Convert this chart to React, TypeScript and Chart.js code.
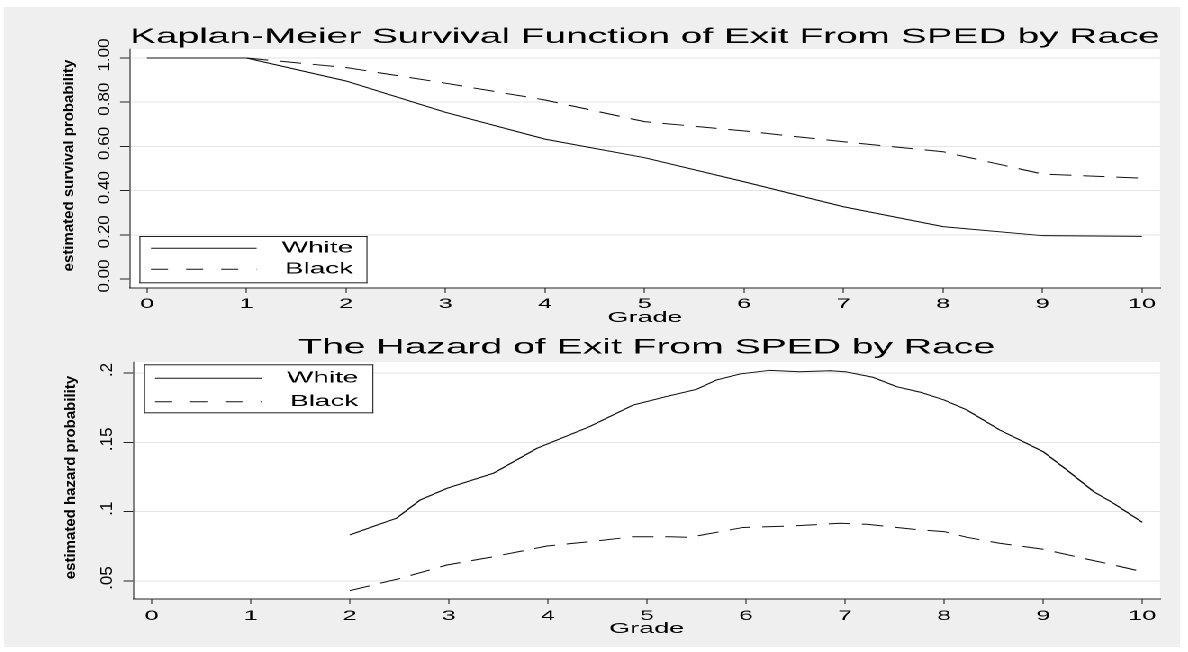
import React, { useEffect, useRef } from 'react';
import { Chart, registerables, LinearScale } from 'chart.js';

Chart.register(...registerables);

// ---------- data ----------
const seriesNames = ['White', 'Black'];

const grades = [0, 1, 2, 3, 4, 5, 6, 7, 8, 9, 10];
const gradeLabels = ['0', '1', '2', '3', '4', '5', '6', '7', '8', '9', '10'];

const survivalWhite = [1.0, 1.0, 0.896, 0.754, 0.633, 0.549, 0.44, 0.327, 0.237, 0.196, 0.193];
const survivalBlack = [1.0, 1.0, 0.957, 0.886, 0.81, 0.712, 0.67, 0.621, 0.576, 0.475, 0.456];
const survivalTicks = [0, 0.2, 0.4, 0.6, 0.8, 1.0];
const survivalTickLabels = ['0.00', '0.20', '0.40', '0.60', '0.80', '1.00'];

const hazardGradesWhite = [2.0, 2.25, 2.47, 2.71, 2.98, 3.45, 3.89, 4.42, 4.86, 5.19, 5.5, 5.7, 5.94, 6.24, 6.54, 6.85, 7.0, 7.28, 7.52, 7.76, 8.0, 8.23, 8.56, 8.8, 9.0, 9.24, 9.51, 9.71, 10.0];
const hazardWhite = [0.0832, 0.0897, 0.0952, 0.1084, 0.1168, 0.1277, 0.1457, 0.1613, 0.1769, 0.1829, 0.1882, 0.1949, 0.1993, 0.2019, 0.2009, 0.2016, 0.2009, 0.1969, 0.1901, 0.1861, 0.1805, 0.1733, 0.1589, 0.1504, 0.1432, 0.13, 0.1144, 0.106, 0.0923];
const hazardGradesBlack = [2.0, 2.51, 2.98, 3.45, 3.99, 4.42, 4.86, 5.23, 5.43, 5.97, 6.48, 6.95, 7.22, 7.69, 8.0, 8.23, 8.56, 9.0, 9.4, 9.71, 10.0];
const hazardBlack = [0.043, 0.0519, 0.0615, 0.0675, 0.0752, 0.0783, 0.0819, 0.0819, 0.0815, 0.0886, 0.0897, 0.0916, 0.0909, 0.0873, 0.0856, 0.0815, 0.0772, 0.0729, 0.0664, 0.0615, 0.0567];
const hazardTicks = [0.05, 0.1, 0.15, 0.2];
const hazardTickLabels = ['.05', '.1', '.15', '.2'];

const survivalTitle = 'Kaplan-Meier Survival Function of Exit From SPED by Race';
const hazardTitle = 'The Hazard of Exit From SPED by Race';
const survivalYTitle = 'estimated survival probability';
const hazardYTitle = 'estimated hazard probability';
const xTitle = 'Grade';

// ---------- style ----------
const BASE_W = 653;
const STRETCH = 1176 / BASE_W;
const FONT = '"Liberation Sans", Arial, Helvetica, sans-serif';
const AXIS = '#222222';
const GRID = '#e4e4e4';
const LINE = '#111111';
const DATA_DASH = [12, 6.5];
const LEGEND_DASH = [9.5, 10];
const Y_LABEL_FONT = `17px ${FONT}`;
const Y_TITLE_FONT = `bold 15px ${FONT}`;
const Y_LABEL_LIFT = 3;

// y axis whose rotated labels are drawn undistorted under the horizontal stretch
class StataYScale extends LinearScale {
  static id = 'stataY';
  drawLabels() {
    const opts: any = this.options;
    if (!opts.ticks.display) return;
    const ctx = this.ctx;
    const x = this.right - opts.ticks.padding;
    ctx.save();
    ctx.fillStyle = opts.ticks.color;
    ctx.font = Y_LABEL_FONT;
    ctx.textAlign = 'center';
    ctx.textBaseline = 'middle';
    (this.ticks as any[]).forEach((tick, i) => {
      const y = this.getPixelForTick(i) - Y_LABEL_LIFT;
      ctx.save();
      ctx.translate(x, y);
      ctx.scale(1 / STRETCH, 1);
      ctx.rotate(-Math.PI / 2);
      ctx.fillText(String(tick.label), 0, 0);
      ctx.restore();
    });
    ctx.restore();
  }
  drawTitle() {
    const opts: any = this.options;
    const t = opts.title;
    if (!t.display) return;
    const ctx = this.ctx;
    ctx.save();
    ctx.translate(this.right - t.padding, (this.top + this.bottom) / 2 - 3);
    ctx.scale(1 / STRETCH, 1);
    ctx.rotate(-Math.PI / 2);
    ctx.fillStyle = t.color;
    ctx.font = Y_TITLE_FONT;
    ctx.textAlign = 'center';
    ctx.textBaseline = 'middle';
    ctx.fillText(String(t.text), 0, 0);
    ctx.restore();
  }
}
Chart.register(StataYScale as any);

// white plot region + boxed legend placed inside the plot
const stataFramePlugin = {
  id: 'stataFrame',
  beforeDraw(chart: any) {
    const { ctx, chartArea: a } = chart;
    ctx.save();
    ctx.fillStyle = '#ffffff';
    ctx.fillRect(a.left, a.top, a.right - a.left, a.bottom - a.top);
    ctx.restore();
  },
  afterLayout(chart: any, _args: any, o: any) {
    const lg: any = chart.legend;
    if (!lg) return;
    const a = chart.chartArea;
    const fr = { x: a.left + o.x, y: a.top + o.y, w: o.w, h: o.h };
    lg.left = fr.x + o.lineInset - o.padding;
    lg.top = fr.y + o.lineTop - o.padding - o.fontSize / 2;
    lg.right = fr.x + fr.w - o.textInset;
    lg.bottom = fr.y + fr.h + 40;
    lg.width = lg.right - lg.left;
    lg.height = lg.bottom - lg.top;
    lg.$frame = fr;
    if (!lg.$wrapped) {
      const orig = lg.draw;
      lg.draw = function (...args: any[]) {
        const f = this.$frame;
        const c = this.ctx;
        c.save();
        c.fillStyle = '#ffffff';
        c.fillRect(f.x, f.y, f.w, f.h);
        c.fillStyle = AXIS;
        c.fillRect(f.x, f.y, f.w, 1);
        c.fillRect(f.x, f.y + f.h - 1, f.w, 1);
        c.fillRect(f.x, f.y, 1 / STRETCH, f.h);
        c.fillRect(f.x + f.w - 1 / STRETCH, f.y, 1 / STRETCH, f.h);
        c.restore();
        return orig.apply(this, args);
      };
      lg.$wrapped = true;
    }
  },
};

type PanelSpec = {
  title: string;
  titlePad: { top: number; bottom: number };
  yTitle: string;
  yMin: number;
  yMax: number;
  yTicks: number[];
  yTickLabels: string[];
  hideZeroGrid: boolean;
  yWidth: number;
  yLabelGap: number;
  yTitleGap: number;
  xMin: number;
  xMax: number;
  xHeight: number;
  xTickPad: number;
  xTitlePadBottom: number;
  white: { x: number; y: number }[];
  black: { x: number; y: number }[];
  legend: any;
};

function buildConfig(p: PanelSpec): any {
  const lineLength = p.legend.lineLength;
  return {
    type: 'line',
    data: {
      datasets: [
        { label: seriesNames[0], data: p.white, borderColor: LINE, backgroundColor: LINE, borderWidth: 1, borderDash: [], pointRadius: 0, fill: false, tension: 0 },
        { label: seriesNames[1], data: p.black, borderColor: LINE, backgroundColor: LINE, borderWidth: 1, borderDash: DATA_DASH, pointRadius: 0, fill: false, tension: 0 },
      ],
    },
    options: {
      responsive: false,
      animation: false,
      devicePixelRatio: 2,
      events: [],
      layout: { padding: { left: 0, right: 11.1, top: 0, bottom: 0 } },
      scales: {
        x: {
          type: 'linear',
          min: p.xMin,
          max: p.xMax,
          afterBuildTicks: (s: any) => { s.ticks = grades.map((v) => ({ value: v })); },
          afterFit: (s: any) => { s.height = p.xHeight; },
          ticks: {
            callback: (_v: any, i: number) => gradeLabels[i],
            font: { family: FONT, size: 14 },
            color: '#000',
            padding: p.xTickPad,
            maxRotation: 0,
            minRotation: 0,
            autoSkip: false,
          },
          grid: { drawOnChartArea: false, drawTicks: true, tickLength: 5, tickColor: AXIS, tickWidth: 1 / STRETCH },
          border: { display: true, color: AXIS, width: 1 },
          title: { display: true, text: xTitle, color: '#000', font: { family: FONT, size: 15 }, padding: { top: 0, bottom: p.xTitlePadBottom } },
        },
        y: {
          type: 'stataY',
          min: p.yMin,
          max: p.yMax,
          afterBuildTicks: (s: any) => { s.ticks = p.yTicks.map((v) => ({ value: v })); },
          afterFit: (s: any) => { s.width = p.yWidth; },
          ticks: {
            callback: (_v: any, i: number) => p.yTickLabels[i],
            font: { family: FONT, size: 16 },
            color: '#000',
            padding: p.yLabelGap,
          },
          grid: {
            color: (c: any) => (p.hideZeroGrid && c.tick && c.tick.value === 0 ? 'rgba(0,0,0,0)' : GRID),
            lineWidth: 1,
            drawTicks: true,
            tickLength: 5.5,
            tickColor: AXIS,
            tickWidth: 1,
          },
          border: { display: true, color: AXIS, width: 1 / STRETCH },
          title: { display: true, text: p.yTitle, color: '#000', font: { family: FONT, size: 14 }, padding: p.yTitleGap },
        },
      },
      plugins: {
        tooltip: { enabled: false },
        title: {
          display: true,
          text: p.title,
          color: '#000',
          fullSize: false,
          font: { family: FONT, size: 21.7, weight: 'normal', lineHeight: 1 },
          padding: p.titlePad,
        },
        legend: {
          display: true,
          position: 'chartArea',
          align: 'start',
          labels: {
            usePointStyle: true,
            pointStyle: 'line',
            pointStyleWidth: lineLength,
            font: { family: FONT, size: p.legend.fontSize },
            color: '#000',
            padding: p.legend.padding,
            textAlign: 'right',
            generateLabels: (chart: any) =>
              chart.data.datasets.map((ds: any, i: number) => ({
                text: ds.label,
                fillStyle: 'rgba(0,0,0,0)',
                strokeStyle: ds.borderColor,
                fontColor: '#000',
                lineWidth: 1,
                lineDash: i === 1 ? LEGEND_DASH : [],
                lineDashOffset: 0,
                pointStyle: 'line',
                hidden: false,
                textAlign: 'right',
                datasetIndex: i,
              })),
          },
        },
        stataFrame: p.legend,
      },
    },
    plugins: [stataFramePlugin],
  };
}

const survivalSpec: PanelSpec = {
  title: survivalTitle,
  titlePad: { top: 19.15, bottom: 1.15 },
  yTitle: survivalYTitle,
  yMin: -0.0407,
  yMax: 1.0407,
  yTicks: survivalTicks,
  yTickLabels: survivalTickLabels,
  hideZeroGrid: true,
  yWidth: 69.96,
  yLabelGap: 13.9,
  yTitleGap: 33.6,
  xMin: -0.171,
  xMax: 10.181,
  xHeight: 39,
  xTickPad: 2.5,
  xTitlePadBottom: 0,
  white: grades.map((g, i) => ({ x: g, y: survivalWhite[i] })),
  black: grades.map((g, i) => ({ x: g, y: survivalBlack[i] })),
  legend: { x: 5.24, y: 187, w: 126.6, h: 47.3, lineInset: 6.4, lineTop: 12.3, lineLength: 58.7, padding: 5.5, fontSize: 15.5, textInset: 7.9 },
};

const hazardSpec: PanelSpec = {
  title: hazardTitle,
  titlePad: { top: 9.65, bottom: 3.65 },
  yTitle: hazardYTitle,
  yMin: 0.037,
  yMax: 0.2079,
  yTicks: hazardTicks,
  yTickLabels: hazardTickLabels,
  hideZeroGrid: false,
  yWidth: 71.8,
  yLabelGap: 14.6,
  yTitleGap: 34.6,
  xMin: -0.186,
  xMax: 10.179,
  xHeight: 48,
  xTickPad: 3.5,
  xTitlePadBottom: 9,
  white: hazardGradesWhite.map((g, i) => ({ x: g, y: hazardWhite[i] })),
  black: hazardGradesBlack.map((g, i) => ({ x: g, y: hazardBlack[i] })),
  legend: { x: 6.0, y: 2.3, w: 127.3, h: 49, lineInset: 6.1, lineTop: 14, lineLength: 59.2, padding: 7.9, fontSize: 15.5, textInset: 8.3 },
};

export default function App() {
  const topRef = useRef<HTMLCanvasElement>(null);
  const bottomRef = useRef<HTMLCanvasElement>(null);

  useEffect(() => {
    const top = new Chart(topRef.current as HTMLCanvasElement, buildConfig(survivalSpec));
    const bottom = new Chart(bottomRef.current as HTMLCanvasElement, buildConfig(hazardSpec));
    return () => {
      top.destroy();
      bottom.destroy();
    };
  }, []);

  return (
    <div
      style={{
        position: 'absolute',
        left: 4,
        top: 7,
        width: 1176,
        height: 640,
        background: '#efefef',
        overflow: 'hidden',
      }}
    >
      <div style={{ width: BASE_W, height: 640, transform: `scaleX(${STRETCH})`, transformOrigin: '0 0' }}>
        <canvas ref={topRef} width={BASE_W} height={320} style={{ display: 'block' }} />
        <canvas ref={bottomRef} width={BASE_W} height={320} style={{ display: 'block' }} />
      </div>
    </div>
  );
}
